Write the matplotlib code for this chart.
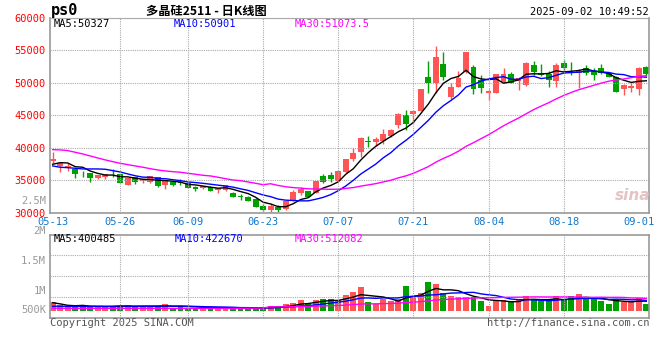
import numpy as np
import pandas as pd
import matplotlib
matplotlib.use("Agg")
import matplotlib.pyplot as plt

# =====================================================
# 1) DADOS (lidos do gráfico)
# =====================================================
opens = [37960, 37240, 37080, 36730, 35950, 36060, 35385, 35450, 35930, 35900,
         34260, 35450, 34920, 34720, 35450, 34210, 34770, 34770, 34520, 34000,
         33840, 34000, 33490, 33490, 33070, 32480, 32450, 32100, 31020, 30400,
         30910, 30510, 31840, 33070, 33380, 33070, 35690, 35800, 34880, 36220,
         38270, 39400, 41000, 40850, 41100, 41820, 43520, 45060, 45210, 45680,
         50970, 49970, 52930, 47880, 49420, 51740, 52420, 50460, 48410, 48500,
         50200, 51380, 50350, 49690, 52770, 51590, 51330, 50350, 53000, 52300,
         51490, 52260, 51900, 52360, 51590, 50970, 49070, 49180, 49070, 52510]
highs = [39350, 37650, 37600, 36800, 36420, 36100, 35800, 35960, 36680, 36000,
         35400, 35500, 35180, 35650, 35500, 35030, 34900, 35140, 34600, 34150,
         34150, 34100, 33750, 34300, 33100, 32870, 32500, 32200, 31330, 31430,
         31170, 31800, 33530, 34000, 33400, 34900, 35910, 36220, 36500, 38320,
         39920, 41710, 41820, 41620, 42900, 42900, 45320, 45830, 45830, 49100,
         53300, 55750, 54780, 49950, 51850, 54830, 52770, 51230, 49020, 51420,
         52360, 51650, 50880, 53240, 53390, 52930, 51850, 53030, 53540, 53280,
         52160, 52770, 52260, 52880, 51740, 51080, 49800, 49950, 52510, 52670]
lows = [37650, 36310, 36460, 35385, 35450, 34770, 35140, 35140, 35540, 34500,
        34200, 34370, 34520, 34520, 34000, 33640, 34100, 34260, 33750, 33330,
        33640, 33300, 33070, 33400, 32400, 31940, 31800, 30900, 30290, 30140,
        30140, 30450, 31800, 32720, 32360, 33000, 34520, 34670, 34800, 36060,
        38010, 38630, 40080, 40280, 40590, 41710, 43100, 42750, 43870, 45600,
        48410, 48500, 50460, 47530, 49330, 51590, 48310, 48410, 47370, 48410,
        50040, 49950, 48920, 49580, 51230, 51080, 49330, 49420, 51740, 51230,
        49270, 51230, 50460, 51330, 50880, 48560, 48150, 48660, 48150, 51130]
closes = [38270, 37610, 37240, 35910, 35900, 35385, 35800, 35960, 35880, 34610,
          35290, 34770, 35180, 35600, 34100, 35030, 34260, 34520, 33840, 33690,
          34150, 33380, 33750, 34210, 32450, 32430, 31840, 30910, 30400, 31060,
          30400, 31740, 33230, 33640, 32450, 34880, 34770, 35180, 36420, 38270,
          39150, 41460, 40900, 41360, 42130, 42750, 45210, 43670, 45720, 49070,
          50040, 53920, 50970, 49330, 50720, 54780, 49020, 49180, 48810, 51380,
          51380, 50040, 50720, 53130, 51740, 51230, 50460, 52770, 52230, 52230,
          51850, 51590, 51230, 51490, 50970, 48660, 49690, 49530, 52360, 51380]
volumes = [367, 233, 192, 192, 163, 204, 204, 163, 192, 192,
           233, 192, 192, 192, 192, 273, 135, 192, 135, 135,
           135, 135, 135, 135, 122, 122, 122, 122, 122, 192,
           192, 273, 314, 437, 298, 437, 477, 502, 437, 641,
           775, 967, 355, 273, 490, 396, 502, 1008, 600, 734,
           1171, 1089, 722, 600, 559, 559, 571, 396, 192, 437,
           461, 396, 437, 600, 490, 396, 396, 600, 437, 600,
           681, 477, 477, 396, 273, 490, 355, 355, 530, 273]
volumes = [v * 1000 for v in volumes]

# médias do início (sem histórico anterior no gráfico)
ma5_head = [37450, 37700, 37650, 37080]
ma10_head = [37190, 36990, 36930, 36830, 36730, 36730, 36730, 36680, 36470]
ma30_head = [39710, 39660, 39560, 39300, 39040, 38730, 38420, 38120, 37850, 37600,
             37390, 37190, 36990, 36770, 36570, 36420, 36310, 36220, 36060, 35910,
             35750, 35650, 35450, 35230, 35030, 34920, 34720, 34520, 34300]
vma5_head = [339000, 290000, 232000, 215000]
vma10_head = [195000, 195000, 192000, 192000, 192000, 190000, 190000, 190000, 192000]
vma30_head = [112000, 112000, 110000, 110000, 110000, 110000, 110000, 110000, 110000, 110000,
              110000, 110000, 110000, 110000, 110000, 108000, 108000, 108000, 108000, 108000,
              108000, 108000, 108000, 108000, 108000, 110000, 112000, 115000, 120000]

tick_idx = [0, 9, 18, 28, 38, 48, 58, 68, 78]
tick_lbl = ["05-13", "05-26", "06-09", "06-23", "07-07", "07-21", "08-04", "08-18", "09-01"]
grid_idx = [9, 18, 28, 38, 48, 58, 68]
price_ticks = [30000, 35000, 40000, 45000, 50000, 55000, 60000]

df = pd.DataFrame({"open": opens, "high": highs, "low": lows,
                   "close": closes, "vol": volumes})
n = len(df)
x = np.arange(n)


def media(s, w, head):
    m = s.rolling(w).mean().to_numpy()
    m[:w - 1] = head
    return m


ma5 = media(df["close"], 5, ma5_head)
ma10 = media(df["close"], 10, ma10_head)
ma30 = media(df["close"], 30, ma30_head)
vma5 = media(df["vol"], 5, vma5_head)
vma10 = media(df["vol"], 10, vma10_head)
vma30 = media(df["vol"], 30, vma30_head)

# =====================================================
# 2) FIGURA
# =====================================================
W, H = 660, 360
fig = plt.figure(figsize=(6.6, 3.6), dpi=100)
fig.patch.set_facecolor("white")


def box(l, t, r, b):
    return [l / W, 1 - b / H, (r - l) / W, (b - t) / H]


def px(xp, yp):
    return xp / W, 1 - yp / H


MONO = "DejaVu Sans Mono"
RED = "#ff5555"
GREEN = "#00a000"
GRID = "#aaaaaa"
SPINE = "#999999"
dots = (0, (1, 1))

ax = fig.add_axes(box(50, 18, 649, 212.6))
axv = fig.add_axes(box(50, 234.5, 649, 318.3))

up = df["close"] >= df["open"]
cores = np.where(up, RED, GREEN)

# =====================================================
# 3) CANDLES
# =====================================================
ax.vlines(x, df["low"], df["high"], colors=cores, linewidth=1)
corpo = (df["close"] - df["open"]).abs().clip(lower=60)
base = df[["open", "close"]].min(axis=1)
ax.bar(x, corpo, bottom=base, width=0.78, color=cores, linewidth=0)

ax.plot(x, ma5, color="black", lw=1)
ax.plot(x, ma10, color="#0000ff", lw=1)
ax.plot(x, ma30, color="#ff00ff", lw=1)

ax.set_xlim(-0.36, n - 0.64)
ax.set_ylim(30000, 60000)
ax.set_yticks(price_ticks)
ax.set_yticklabels([str(t) for t in price_ticks], color="#ff0000",
                   fontfamily=MONO, fontsize=7.5)
ax.set_xticks(tick_idx)
ax.set_xticklabels(tick_lbl, color="#1177cc", fontfamily=MONO, fontsize=7.5)
ax.tick_params(length=0, pad=3)
ax.grid(axis="y", color=GRID, linestyle=dots, linewidth=0.8)
for g in grid_idx:
    ax.axvline(g, color=GRID, linestyle=dots, linewidth=0.8)
for s in ["left", "right", "bottom"]:
    ax.spines[s].set_color(SPINE)
    ax.spines[s].set_linewidth(1.2)
ax.spines["top"].set_color(GRID)
ax.spines["top"].set_linestyle(dots)
ax.spines["top"].set_linewidth(0.8)

# =====================================================
# 4) VOLUME
# =====================================================
axv.bar(x, df["vol"], width=0.78, color=cores, linewidth=0)
axv.plot(x, vma5, color="black", lw=1)
axv.plot(x, vma10, color="#0000ff", lw=1)
axv.plot(x, vma30, color="#ff00ff", lw=1)
escala = 40800  # lotes por pixel
vlo = -(318.3 - 311) * escala
vhi = (311 - 234.5) * escala
axv.set_xlim(-0.36, n - 0.64)
axv.set_ylim(vlo, vhi)
axv.set_yticks([vlo + (vhi - vlo) * f for f in (0.25, 0.5, 0.75)])
axv.set_yticklabels([])
axv.set_xticks([])
axv.tick_params(length=0)
axv.grid(axis="y", color=GRID, linestyle=dots, linewidth=0.8)
for g in grid_idx:
    axv.axvline(g, color=GRID, linestyle=dots, linewidth=0.8)
for s in axv.spines.values():
    s.set_color(SPINE)
    s.set_linewidth(1.2)

# =====================================================
# 5) TEXTOS
# =====================================================
fig.text(*px(51, 11), "ps0", fontfamily=MONO, fontweight="bold",
         fontsize=11, va="center", ha="left")
fig.text(*px(206, 11), "多晶硅2511 - 日K线图",
         fontfamily=["Noto Sans CJK SC", "DejaVu Sans"], fontweight="bold",
         fontsize=8.8, va="center", ha="center")
fig.text(*px(649, 12), "2025-09-02 10:49:52", fontfamily=MONO,
         fontsize=7.5, va="center", ha="right")

fig.text(*px(54, 24), "MA5:50327", color="black", fontfamily=MONO,
         fontsize=7.5, va="center")
fig.text(*px(174, 24), "MA10:50901", color="#0000ff", fontfamily=MONO,
         fontsize=7.5, va="center")
fig.text(*px(295, 24), "MA30:51073.5", color="#ff00ff", fontfamily=MONO,
         fontsize=7.5, va="center")

fig.text(*px(54, 238.5), "MA5:400485", color="black", fontfamily=MONO,
         fontsize=7.5, va="center")
fig.text(*px(175, 238.5), "MA10:422670", color="#0000ff", fontfamily=MONO,
         fontsize=7.5, va="center")
fig.text(*px(295, 238.5), "MA30:512082", color="#ff00ff", fontfamily=MONO,
         fontsize=7.5, va="center")

for lbl, yp in [("2.5M", 200.5), ("2M", 230.7), ("1.5M", 260.7),
                ("1M", 291), ("500K", 310)]:
    fig.text(*px(46, yp), lbl, color="#999999", fontfamily=MONO,
             fontsize=7.5, va="center", ha="right")

fig.text(*px(50, 323.5), "Copyright 2025 SINA.COM", color="#555555",
         fontfamily=MONO, fontsize=7.5, va="center", ha="left")
fig.text(*px(649, 323.5), "http://finance.sina.com.cn", color="#555555",
         fontfamily=MONO, fontsize=7.5, va="center", ha="right")

fig.text(*px(633, 196), "sina", color="#e3c3c3", fontsize=11,
         fontweight="bold", fontstyle="italic", va="center", ha="center")

fig.savefig("out.png", dpi=100)
